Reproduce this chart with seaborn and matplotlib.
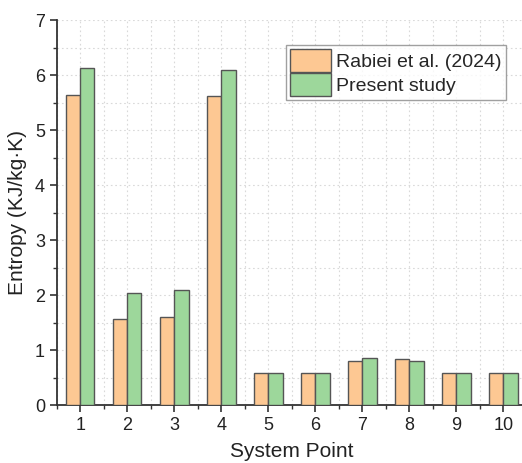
import matplotlib
matplotlib.use("Agg")
import matplotlib.pyplot as plt
import seaborn as sns
import pandas as pd
from matplotlib.ticker import MultipleLocator, FixedLocator

points = ["1", "2", "3", "4", "5", "6", "7", "8", "9", "10"]
rabiei = [5.64, 1.56, 1.60, 5.62, 0.58, 0.58, 0.80, 0.83, 0.59, 0.59]
present = [6.13, 2.04, 2.09, 6.09, 0.58, 0.58, 0.85, 0.81, 0.59, 0.59]
series_names = ["Rabiei et al. (2024)", "Present study"]

df = pd.DataFrame({
    "System Point": points * 2,
    "Entropy": rabiei + present,
    "Series": [series_names[0]] * len(points) + [series_names[1]] * len(points),
})

sns.set_style("white")
plt.rcParams["font.family"] = ["Liberation Sans", "DejaVu Sans"]

fig = plt.figure(figsize=(5.22, 4.63), dpi=100)
ax = fig.add_axes([0.109, 0.125, 0.9004, 0.8315])

palette = {series_names[0]: "#FDC893", series_names[1]: "#9DD79B"}
sns.barplot(data=df, x="System Point", y="Entropy", hue="Series", order=points,
            hue_order=series_names, palette=palette, width=0.6, saturation=1,
            edgecolor="#555555", linewidth=1.0, ax=ax, zorder=3)

ax.set_xlim(-0.5, 9.5)
ax.set_ylim(0, 7)
ax.yaxis.set_major_locator(MultipleLocator(1))
ax.yaxis.set_minor_locator(MultipleLocator(0.5))
ax.xaxis.set_minor_locator(FixedLocator([i + 0.5 for i in range(-1, 10)]))

ax.grid(True, which="both", color="#d9d9d9", linestyle=(0, (1.5, 2.5)), linewidth=0.8, zorder=0)
ax.set_axisbelow(True)

for s in ["left", "bottom"]:
    ax.spines[s].set_color("#333333")
    ax.spines[s].set_linewidth(1.3)
for s in ["top", "right"]:
    ax.spines[s].set_visible(False)

ax.tick_params(axis="both", which="major", direction="out", length=5, width=1.2,
               color="#333333", labelsize=13, labelcolor="#222222", left=True, bottom=True)
ax.tick_params(axis="both", which="minor", direction="out", length=3, width=1.0,
               color="#333333", left=True, bottom=True)

ax.set_xlabel("System Point", fontsize=15, color="#222222", labelpad=6)
ax.set_ylabel("Entropy (KJ/kg·K)", fontsize=15, color="#222222", labelpad=6)

leg = ax.legend(loc="upper left", bbox_to_anchor=(0.487, 0.935), fontsize=14,
                frameon=True, fancybox=False, edgecolor="#888888",
                handlelength=2.1, handleheight=1.45, handletextpad=0.3,
                borderpad=0.2, labelspacing=0.05, borderaxespad=0)
leg.get_frame().set_linewidth(1.0)

fig.savefig("out.png", dpi=100)
